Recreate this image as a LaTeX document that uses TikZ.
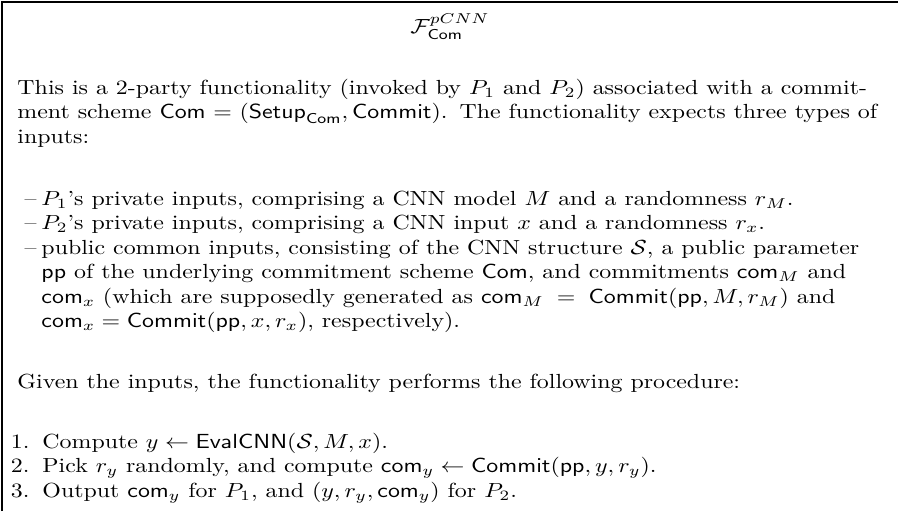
\documentclass[tikz,border=0pt]{standalone}
\usepackage{amsmath}
\usepackage{amssymb}
\usepackage{tikz}

\begin{document}
\begin{tikzpicture}[x=0.4187pt,y=-0.4187pt,
  bodytext/.style={anchor=base west,inner sep=0pt,text width=363pt,yscale=0.855},
  itemtext/.style={bodytext,text width=352pt},
  labeltext/.style={anchor=base east,inner sep=0pt,yscale=0.855}]
\useasboundingbox (0,0) rectangle (898,511);
\draw[line width=0.6pt] (2,511)--(2,2)--(898,2);
\node (title) at (450,33) [anchor=base,yscale=0.855] {$\mathcal{F}^{pCNN}_{\mathsf{Com}}$};
\node (intro) at (17,94) [bodytext] {This is a 2-party functionality (invoked by $P_1$ and $P_2$) associated with a commitment scheme $\mathsf{Com}=(\mathsf{Setup}_{\mathsf{Com}},\mathsf{Commit})$. The functionality expects three types of inputs:};
% the three kinds of inputs
\foreach \yy [count=\i] in {205,229.5,254} \node (dash\i) at (37,\yy) [labeltext] {\textendash};
\node (itemA) at (41,205) [itemtext] {$P_1$'s private inputs, comprising a CNN model $M$ and a randomness $r_M$.};
\node (itemB) at (41,229.5) [itemtext] {$P_2$'s private inputs, comprising a CNN input $x$ and a randomness $r_x$.};
\node (itemC) at (41,254) [itemtext] {public common inputs, consisting of the CNN structure $\mathcal{S}$, a public parameter\linebreak $\mathsf{pp}$ of the underlying commitment scheme $\mathsf{Com}$, and commitments $\mathsf{com}_M$ and\linebreak $\mathsf{com}_x$ (which are supposedly generated as $\mathsf{com}_M=\mathsf{Commit}(\mathsf{pp},M,r_M)$ and\linebreak $\mathsf{com}_x=\mathsf{Commit}(\mathsf{pp},x,r_x)$, respectively).};
\node (given) at (17,388) [bodytext] {Given the inputs, the functionality performs the following procedure:};
% the procedure
\foreach \yy [count=\i] in {448,472.5,497} \node (num\i) at (30,\yy) [labeltext] {\i.};
\node (stepA) at (42,448) [itemtext] {Compute $y\leftarrow\mathsf{EvalCNN}(\mathcal{S},M,x)$.};
\node (stepB) at (42,472.5) [itemtext] {Pick $r_y$ randomly, and compute $\mathsf{com}_y\leftarrow\mathsf{Commit}(\mathsf{pp},y,r_y)$.};
\node (stepC) at (42,497) [itemtext] {Output $\mathsf{com}_y$ for $P_1$, and $(y,r_y,\mathsf{com}_y)$ for $P_2$.};
\end{tikzpicture}
\end{document}
